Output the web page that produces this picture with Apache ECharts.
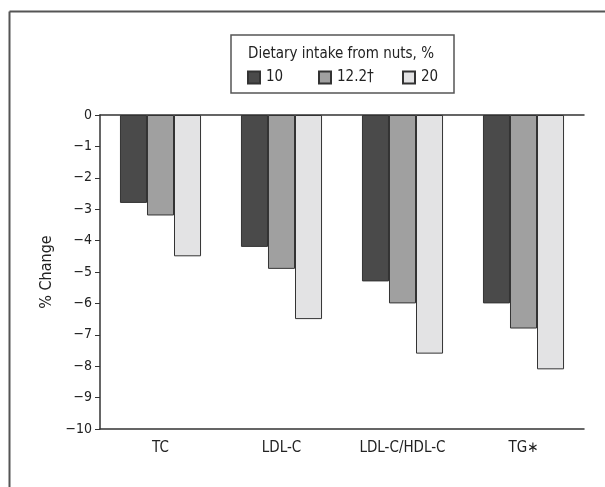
<!DOCTYPE html>
<html>
<head>
<meta charset="utf-8">
<script src="https://cdn.jsdelivr.net/npm/echarts@6/dist/echarts.min.js"></script>
<style>
html,body{margin:0;padding:0;background:#fff;}
#chart{width:605px;height:487px;}
</style>
</head>
<body>
<div id="chart"></div>
<script>
const categories = ['TC', 'LDL-C', 'LDL-C/HDL-C', 'TG\u2217'];
const seriesNames = ['10', '12.2\u2020', '20'];
const values10 = [-2.8, -4.2, -5.3, -6.0];
const values122 = [-3.2, -4.9, -6.0, -6.8];
const values20 = [-4.5, -6.5, -7.6, -8.1];
const yTicks = [0, -1, -2, -3, -4, -5, -6, -7, -8, -9, -10];
const legendTitle = 'Dietary intake from nuts, %';

const FONT = '"DejaVu Sans Condensed", "Liberation Sans Narrow", "Liberation Sans", Arial, sans-serif';
const colors = ['#4a4a4a', '#a0a0a0', '#e3e3e4'];
const seriesData = [values10, values122, values20];

const chart = echarts.init(document.getElementById('chart'));
const legendLefts = [242, 313, 397];

const option = {
  animation: false,
  backgroundColor: '#fff',
  textStyle: { fontFamily: FONT },
  grid: { left: 100, right: 21, top: 115, bottom: 58 },
  legend: seriesNames.map((n, i) => ({
    data: [n],
    left: legendLefts[i],
    top: 65,
    icon: 'rect',
    itemWidth: 12,
    itemHeight: 12,
    itemGap: 6,
    selectedMode: false,
    textStyle: { fontFamily: FONT, fontSize: 15, color: '#222', padding: [0, 0, 0, 1] }
  })),
  xAxis: [
    {
      type: 'category',
      data: categories,
      position: 'bottom',
      axisLine: { onZero: false, lineStyle: { color: '#333', width: 1.5 } },
      axisTick: { show: false },
      axisLabel: { fontFamily: FONT, fontSize: 15, color: '#222', margin: 12 }
    },
    {
      type: 'category',
      data: categories,
      position: 'top',
      axisLine: { onZero: false, lineStyle: { color: '#333', width: 1.5 } },
      axisTick: { show: false },
      axisLabel: { show: false }
    }
  ],
  yAxis: {
    type: 'value',
    min: -10,
    max: 0,
    interval: 1,
    name: '% Change',
    nameLocation: 'middle',
    nameGap: 38,
    nameTextStyle: { fontFamily: FONT, fontSize: 16, color: '#222' },
    axisLine: { show: true, lineStyle: { color: '#333', width: 1.5 } },
    axisTick: { show: true, length: 5, lineStyle: { color: '#333' } },
    splitLine: { show: false },
    axisLabel: {
      fontFamily: FONT, fontSize: 14, color: '#222', margin: 8,
      formatter: v => yTicks.includes(v) ? String(v).replace('-', '\u2212') : ''
    }
  },
  series: seriesNames.map((n, i) => ({
    name: n,
    type: 'bar',
    data: seriesData[i],
    barGap: '0%',
    barCategoryGap: '33%',
    itemStyle: { color: colors[i], borderColor: '#333', borderWidth: 1 }
  })),
  graphic: [
    { type: 'line', shape: { x1: 9.5, y1: 11.5, x2: 605, y2: 11.5 }, style: { stroke: '#555', lineWidth: 2 } },
    { type: 'line', shape: { x1: 9.5, y1: 11.5, x2: 9.5, y2: 487 }, style: { stroke: '#555', lineWidth: 2 } },
    { type: 'rect', shape: { x: 231, y: 35, width: 223, height: 58 }, style: { fill: '#fff', stroke: '#555', lineWidth: 1.5 }, z: -1 },
    { type: 'text', x: 341, y: 54, style: { text: legendTitle, fontFamily: FONT, fontSize: 15, fill: '#222', align: 'center', verticalAlign: 'middle' } }
  ]
};
chart.setOption(option);
</script>
</body>
</html>
